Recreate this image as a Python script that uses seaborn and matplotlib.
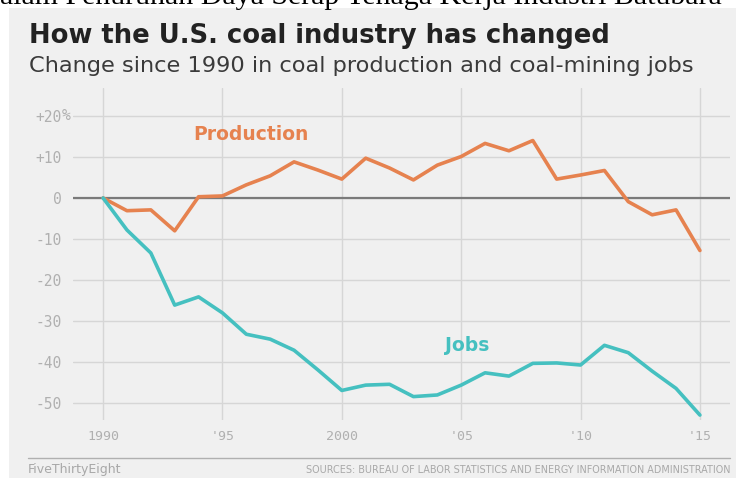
import matplotlib
matplotlib.use("Agg")
import matplotlib.pyplot as plt
from matplotlib.patches import Rectangle
import seaborn as sns
import pandas as pd

# Percent change since 1990
years = list(range(1990, 2016))
production = [0, -3.1, -2.9, -8.0, 0.3, 0.5, 3.2, 5.4, 8.8, 6.8, 4.6, 9.7, 7.3,
              4.4, 8.0, 10.1, 13.3, 11.5, 14.0, 4.6, 5.6, 6.7, -0.9, -4.1, -2.9, -12.8]
jobs = [0, -7.8, -13.4, -26.1, -24.1, -28.0, -33.2, -34.4, -37.1, -41.9, -46.9, -45.6,
        -45.4, -48.4, -48.0, -45.6, -42.6, -43.4, -40.3, -40.2, -40.7, -35.9, -37.7,
        -42.2, -46.4, -52.9]

y_ticks = [20, 10, 0, -10, -20, -30, -40, -50]
y_labels = ["+20", "+10", "0", "-10", "-20", "-30", "-40", "-50"]
x_ticks = [1990, 1995, 2000, 2005, 2010, 2015]
x_labels = ["1990", "'95", "2000", "'05", "'10", "'15"]

title = "How the U.S. coal industry has changed"
subtitle = "Change since 1990 in coal production and coal-mining jobs"
header_line = "alam Penurunan Daya Serap Tenaga Kerja Industri Batubara"
credit = "FiveThirtyEight"
source = "SOURCES: BUREAU OF LABOR STATISTICS AND ENERGY INFORMATION ADMINISTRATION"

df = pd.DataFrame({"year": years * 2,
                   "change": production + jobs,
                   "series": ["Production"] * len(years) + ["Jobs"] * len(years)})

BG = "#f0f0f0"
ORANGE = "#e6824f"
TEAL = "#45c0c0"
TICK_GRAY = "#b0b0b0"

sns.set_theme(style="whitegrid")
plt.rcParams["font.family"] = ["DejaVu Sans"]

W, H = 736, 478
fig = plt.figure(figsize=(W / 100, H / 100), dpi=100, facecolor="white")

# gray card behind the chart
fig.patches.append(Rectangle((9 / W, 0), 1 - 9 / W, 1 - 8 / H, transform=fig.transFigure,
                             facecolor=BG, edgecolor="none", zorder=-5))

# line of the surrounding page text, running off the top edge
fig.text(0 / W, 1 - 4 / H, header_line, family="Liberation Serif", fontsize=21.5,
         color="black", ha="left", va="baseline")

fig.text(29 / W, 1 - 43 / H, title, fontsize=18.6, fontweight="bold", color="#222222",
         ha="left", va="baseline")
fig.text(29 / W, 1 - 72 / H, subtitle, fontsize=16.2, color="#3a3a3a",
         ha="left", va="baseline")

ax = fig.add_axes([73 / W, 1 - 420 / H, (730 - 73) / W, (420 - 88) / H])
ax.set_facecolor(BG)

sns.lineplot(data=df, x="year", y="change", hue="series",
             palette={"Production": ORANGE, "Jobs": TEAL},
             linewidth=2.6, legend=False, ax=ax, zorder=3)

ax.set_xlim(1988.74, 2016.26)
ax.set_ylim(-54.1, 26.8)
ax.set_xticks(x_ticks)
ax.set_xticklabels(x_labels)
ax.set_yticks(y_ticks)
ax.set_yticklabels(y_labels)
ax.set_xlabel("")
ax.set_ylabel("")

ax.grid(True, axis="both", color="#d6d6d6", linewidth=1)
ax.axhline(0, color="#7a7a7a", linewidth=1.6, zorder=2)
for s in ax.spines.values():
    s.set_visible(False)

ax.tick_params(axis="y", length=0, pad=8, labelsize=10.5, labelcolor=TICK_GRAY)
ax.tick_params(axis="x", length=0, pad=7, labelsize=9.5, labelcolor=TICK_GRAY)
for lab in ax.get_xticklabels() + ax.get_yticklabels():
    lab.set_family("DejaVu Sans Mono")

# percent sign trailing the top tick label
ax.annotate("%", xy=(0, 20), xycoords=("axes fraction", "data"),
            xytext=(-8, 0), textcoords="offset points", ha="left", va="center",
            fontsize=10.5, color=TICK_GRAY, family="DejaVu Sans Mono")

ax.text(1996.2, 15.4, "Production", color=ORANGE, fontsize=13.5, fontweight="bold",
        ha="center", va="center")
ax.text(2005.25, -35.9, "Jobs", color=TEAL, fontsize=13.5, fontweight="bold",
        ha="center", va="center")

# footer rule and credits
fig.add_artist(plt.Line2D([28 / W, 730 / W], [1 - 458 / H, 1 - 458 / H],
                          transform=fig.transFigure, color="#b0b0b0", linewidth=1))
fig.text(28 / W, 1 - 470 / H, credit, fontsize=9, color="#a8a8a8",
         ha="left", va="center")
fig.text(730 / W, 1 - 470 / H, source, fontsize=6.9, color="#a8a8a8",
         ha="right", va="center")

fig.savefig("out.png", dpi=100, facecolor="white")
